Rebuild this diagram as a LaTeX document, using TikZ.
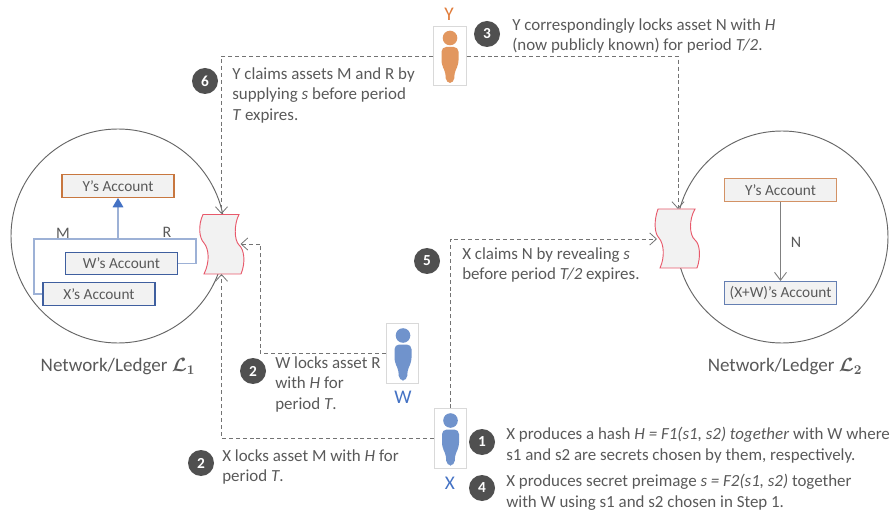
\documentclass[tikz,border=0pt]{standalone}
\usepackage{amsmath}
\usepackage{amssymb}
\usepackage{fontspec}
\setmainfont{Carlito}
\usetikzlibrary{arrows.meta}
\definecolor{txtgray}{HTML}{595959}
\definecolor{badgegray}{HTML}{505050}
\definecolor{boxgray}{HTML}{F2F2F2}
\definecolor{orangeline}{HTML}{C8773F}
\definecolor{orangetext}{HTML}{E07B39}
\definecolor{blueline}{HTML}{3F5F9F}
\definecolor{bluetext}{HTML}{4472C4}
\definecolor{lightblue}{HTML}{9DB1D6}
\definecolor{scrollred}{HTML}{E8596B}
\definecolor{orangeman}{HTML}{E2975F}
\definecolor{blueman}{HTML}{7093CC}
\tikzset{
  account/.style={draw,line width=0.9pt,fill=boxgray,text=txtgray,minimum width=84pt,minimum height=17pt,inner sep=0pt,font=\fontsize{11.5}{13}\selectfont},
  badge/.style={circle,fill=badgegray,text=white,minimum size=19.5pt,inner sep=0pt,font=\bfseries\fontsize{11.5}{12}\selectfont},
  note/.style={anchor=north west,align=left,inner sep=0pt,text=txtgray,font=\fontsize{12.7}{15.6}\selectfont},
  ledger/.style={text=txtgray,inner sep=0pt,font=\fontsize{14.3}{16}\selectfont},
  letter/.style={text=txtgray,inner sep=0pt,font=\fontsize{12}{14}\selectfont},
  manname/.style={inner sep=0pt,font=\fontsize{14.5}{16}\selectfont},
  manbox/.style={draw=black!15,fill=white,minimum width=24.5pt,minimum height=44.5pt,inner sep=0pt,line width=0.6pt},
  link/.style={dashed,dash pattern=on 3pt off 2.2pt,draw=black!55,line width=0.6pt,-{Straight Barb[length=5pt,width=9pt]}},
  scrollnode/.style={minimum height=45pt,inner sep=0pt,outer sep=0pt}
}
\newcommand{\drawman}[3]{
  \begin{scope}[shift={(#1,#2)}]
    \fill[#3] (0,-18) circle (7.3);
    \fill[#3,rounded corners=3.5pt] (-8.5,-9) -- (8.5,-9) -- (8.5,9) -- (4.7,15) -- (4,27) -- (-4,27) -- (-4.7,15) -- (-8.5,9) -- cycle;
  \end{scope}
}
\begin{document}
\begin{tikzpicture}[x=0.75pt,y=-0.75pt]
  \useasboundingbox (0,0) rectangle (896,513);

  \draw[black!60,line width=0.7pt] (118,236) circle (107);
  \draw[black!60,line width=0.7pt] (782,237) circle (106);

  \node[ledger] (ledgerone) at (118,367) {Network/Ledger $\boldsymbol{\mathcal{L}_1}$};
  \node[ledger] (ledgertwo) at (785,367) {Network/Ledger $\boldsymbol{\mathcal{L}_2}$};

  \node[account,draw=orangeline] (yacctone) at (118,186) {Y’s Account};
  \node[account,draw=blueline] (wacct) at (121.5,263.5) {W’s Account};
  \node[account,draw=blueline] (xacct) at (99,294) {X’s Account};
  \node[account,draw=orangeline!80] (yaccttwo) at (780.5,190) {Y’s Account};
  \node[account,draw=blueline!80] (xwacct) at (780.5,293) {(X+W)’s Account};

  \coordinate (mcorner) at (34,239);
  \coordinate (rcorner) at (196,239);
  \coordinate (joinpt) at (yacctone.south |- mcorner);
  \draw[lightblue,line width=0.9pt] (xacct.west) -| (mcorner) -- (rcorner) |- (wacct.east);
  \draw[lightblue,line width=0.9pt,-{Triangle[length=7pt,width=8pt,fill=bluetext,color=bluetext]}] (joinpt) -- (yacctone.south);
  \draw[black!50,line width=0.7pt,-{Straight Barb[length=6pt,width=9pt]}] (yaccttwo.south) -- (xwacct.north);

  \node[letter] (mlabel) at (63,233) {M};
  \node[letter] (rlabel) at (167,232) {R};
  \node[letter] (nlabel) at (796,242) {N};

  \draw[scrollred,fill=boxgray,line width=0.7pt] (203,214.5) .. controls (198,225) and (199,238) .. (204,243) .. controls (209,249) and (210,262) .. (204,274) -- (241,274) .. controls (246,262) and (244,249) .. (239,245) .. controls (234,240) and (234,224) .. (239,214.5) -- cycle;
  \draw[scrollred,fill=boxgray,line width=0.7pt] (658,209) .. controls (654,220) and (654,233) .. (659,238) .. controls (664,244) and (665,257) .. (660,268) -- (697,268) .. controls (701,257) and (700,244) .. (695,240) .. controls (689,235) and (689,219) .. (695,209) -- cycle;
  \node[scrollnode,minimum width=28.5pt] (scrollone) at (221.5,244) {};
  \node[scrollnode,minimum width=31.5pt] (scrolltwo) at (678,239) {};

  \node[manbox] (yman) at (450,56) {};
  \node[manbox] (wman) at (402.5,353.5) {};
  \node[manbox] (xman) at (450.5,438.5) {};
  \drawman{450}{56}{orangeman}
  \drawman{403}{353.5}{blueman}
  \drawman{450.5}{438.5}{blueman}
  \node[manname,text=orangetext] (ylabel) at (449,14) {Y};
  \node[manname,text=bluetext] (wlabel) at (403,397) {W};
  \node[manname,text=bluetext] (xlabel) at (450,483) {X};

  \coordinate (wbend) at (260,244);
  \draw[link] (yman.west) -| (scrollone.north);
  \draw[link] (yman.east) -| (scrolltwo.north);
  \draw[link] (xman.west) -| (scrollone.south);
  \draw[link] (xman.north) |- (scrolltwo.west);
  \draw[link] (wman.west) -| (wbend) -- (scrollone.east);

  \node[badge] (stepsix) at (205,81) {6};
  \node[badge] (stepthree) at (487,34) {3};
  \node[badge] (stepfive) at (427,261) {5};
  \node[badge] (steptwow) at (253,371) {2};
  \node[badge] (steptwox) at (201,463) {2};
  \node[badge] (stepone) at (482,442) {1};
  \node[badge] (stepfour) at (482,488) {4};

  \node[note] (notesix) at (232,67) {Y claims assets M and R by\\supplying \textit{s} before period\\\textit{T} expires.};
  \node[note] (notethree) at (512,18) {Y correspondingly locks asset N with \textit{H}\\(now publicly known) for period \textit{T/2}.};
  \node[note] (notefive) at (462,247) {X claims N by revealing \textit{s}\\before period \textit{T/2} expires.};
  \node[note] (notetwow) at (275,356) {W locks asset R\\with \textit{H} for\\period \textit{T}.};
  \node[note] (notetwox) at (222,449) {X locks asset M with \textit{H} for\\period \textit{T}.};
  \node[note] (noteone) at (506,427) {X produces a hash \textit{H = F1(s1, s2) together} with W where\\s1 and s2 are secrets chosen by them, respectively.};
  \node[note] (notefour) at (506,474) {X produces secret preimage \textit{s = F2(s1, s2)} together\\with W using s1 and s2 chosen in Step 1.};
\end{tikzpicture}
\end{document}
